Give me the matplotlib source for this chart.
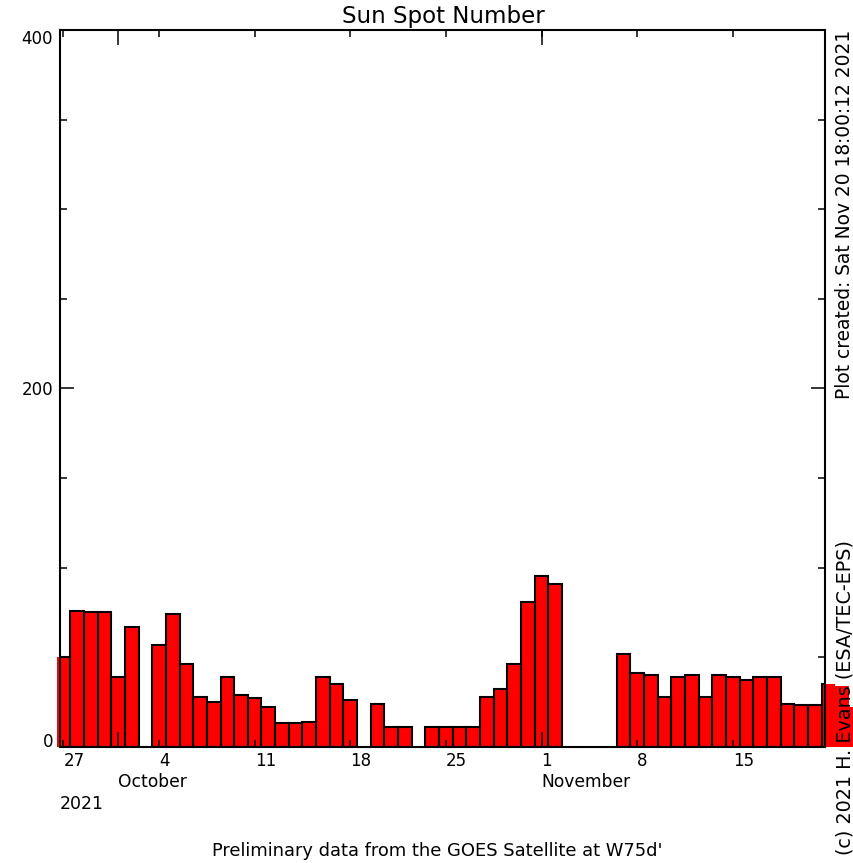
import numpy as np
import pandas as pd
import matplotlib
matplotlib.use("Agg")
import matplotlib.pyplot as plt
import matplotlib.dates as mdates

# Daily sunspot numbers starting 2021-09-27 (nan = no value that day)
first_day = "2021-09-27"
ssn = [50, 76, 75, 75, 39, 67, np.nan, 57, 74, 46,
       28, 25, 39, 29, 27, 22, 13, 13, 14, 39,
       35, 26, np.nan, 24, 11, 11, np.nan, 11, 11, 11,
       11, 28, 32, 46, 81, 95, 91, np.nan, np.nan, np.nan,
       np.nan, 52, 41, 40, 28, 39, 40, 28, 40, 39,
       37, 39, 39, 24, 23, 23, 35, 34, 22]

x_start = "2021-09-26 18:00"
x_end = "2021-11-21 18:00"
week_ticks = ["2021-09-27", "2021-10-04", "2021-10-11", "2021-10-18",
              "2021-10-25", "2021-11-01", "2021-11-08", "2021-11-15"]
month_ticks = ["2021-10-01", "2021-11-01"]
month_names = ["October", "November"]
y_labels = [0, 200, 400]

title = "Sun Spot Number"
footer = "Preliminary data from the GOES Satellite at W75d'"
created = "Plot created: Sat Nov 20 18:00:12 2021"
credit = "(c) 2021 H. Evans (ESA/TEC-EPS)"

W, H = 854, 863
fig = plt.figure(figsize=(W / 100, H / 100), dpi=100)
ax = fig.add_axes([60 / W, (H - 746.7) / H, 765 / W, 716.7 / H])

days = mdates.date2num(pd.date_range(first_day, periods=len(ssn), freq="D"))
vals = np.array(ssn, dtype=float)

# red fill is not clipped (spills past the frame), outlines are
ax.bar(days, vals, width=1.0, color="#ff0000", edgecolor="none",
       clip_on=False, zorder=1)
ax.bar(days, vals, width=1.0, fill=False, edgecolor="black",
       linewidth=1.5, zorder=1.5)

ax.set_xlim(mdates.date2num(pd.Timestamp(x_start)), mdates.date2num(pd.Timestamp(x_end)))
ax.set_ylim(0, 400)

wt = mdates.date2num(pd.to_datetime(week_ticks))
ax.set_xticks(wt)
ax.set_xticklabels([str(pd.Timestamp(d).day) for d in week_ticks], ha="left")
mt = mdates.date2num(pd.to_datetime(month_ticks))
ax.set_xticks(mt, minor=True)
ax.xaxis.remove_overlapping_locs = False

ax.set_yticks(y_labels)
ax.set_yticklabels([str(v) for v in y_labels])
ax.set_yticks(np.arange(50, 400, 50), minor=True)
ylabs = ax.get_yticklabels()
ylabs[0].set_va("baseline")
ylabs[-1].set_va("top")

ax.tick_params(which="both", direction="in", top=True, right=True,
               width=1.1, colors="black", labelsize=12)
ax.tick_params(axis="x", which="major", length=5, pad=4)
ax.tick_params(axis="x", which="minor", length=11)
ax.tick_params(axis="y", which="major", length=10, pad=5)
ax.tick_params(axis="y", which="minor", length=5)
for s in ax.spines.values():
    s.set_linewidth(1.5)

for d, name in zip(mt, month_names):
    ax.annotate(name, xy=(d, 0), xycoords=("data", "axes fraction"),
                xytext=(0, -25.5), textcoords="offset points",
                ha="left", va="center", fontsize=12.3)
ax.annotate("2021", xy=(0, 0), xycoords="axes fraction",
            xytext=(0, -41), textcoords="offset points",
            ha="left", va="center", fontsize=12.5)

fig.text(443 / W, 1 - 17 / H, title, ha="center", va="center", fontsize=16.5)
fig.text(437 / W, 1 - 851 / H, footer, ha="center", va="center", fontsize=12.9)
fig.text(845 / W, 1 - 30 / H, created, rotation=90, ha="center", va="top", fontsize=13.4)
fig.text(845 / W, 1 - 855 / H, credit, rotation=90, ha="center", va="bottom", fontsize=13.8)

fig.savefig("out.png", dpi=100)
